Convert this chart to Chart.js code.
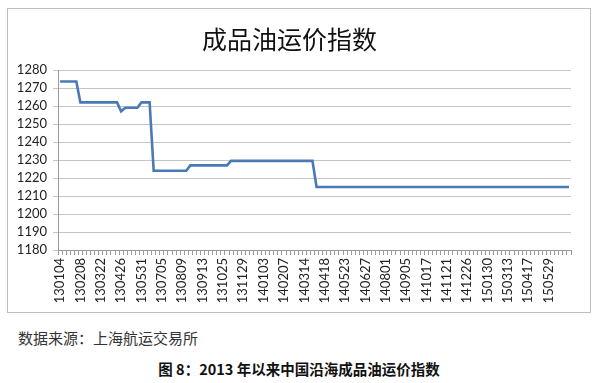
<!DOCTYPE html>
<html>
<head>
<meta charset="utf-8">
<script src="https://cdn.jsdelivr.net/npm/chart.js@4.4.1/dist/chart.umd.min.js"></script>
<style>
  html, body { margin: 0; padding: 0; background: #fff; }
  body { width: 600px; height: 383px; position: relative; overflow: hidden; }
  #frame { position: absolute; left: 7px; top: 8px; width: 582px; height: 303px; border: 1px solid #bdbdbd; }
  #source { position: absolute; left: 18px; top: 327px; font: 15px "Noto Sans CJK SC", sans-serif; color: #333; white-space: nowrap; }
  #caption { position: absolute; left: 0; width: 598px; top: 358px; text-align: center; font: bold 14.5px "Noto Sans CJK SC", sans-serif; color: #111; white-space: nowrap; }
</style>
</head>
<body>
<div id="frame"><canvas id="c" width="582" height="303"></canvas></div>
<div id="source">数据来源：上海航运交易所</div>
<div id="caption">图 8：2013 年以来中国沿海成品油运价指数</div>
<script>
// Tick labels shown on the x axis (every 5th weekly observation)
const tickLabels = ['130104','130208','130322','130426','130531','130705','130809','130913','131025','131129',
  '140103','140207','140314','140418','140523','140627','140801','140905','141017','141121',
  '141226','150130','150313','150417','150529'];
const labelEvery = 5;

// Weekly index values (126 observations)
const indexValues = [
  1273.6,1273.6,1273.6,1273.6,1273.6,
  1262,1262,1262,1262,1262,1262,1262,1262,1262,1262,
  1257,
  1259,1259,1259,1259,
  1262,1262,1262,
  1224,1224,1224,1224,1224,1224,1224,1224,1224,
  1227,1227,1227,1227,1227,1227,1227,1227,1227,1227,
  1229.5,1229.5,1229.5,1229.5,1229.5,1229.5,1229.5,1229.5,1229.5,1229.5,
  1229.5,1229.5,1229.5,1229.5,1229.5,1229.5,1229.5,1229.5,1229.5,1229.5,1229.5,
  1215,1215,1215,1215,1215,1215,1215,1215,1215,1215,
  1215,1215,1215,1215,1215,1215,1215,1215,1215,1215,
  1215,1215,1215,1215,1215,1215,1215,1215,1215,1215,
  1215,1215,1215,1215,1215,1215,1215,1215,1215,1215,
  1215,1215,1215,1215,1215,1215,1215,1215,1215,1215,
  1215,1215,1215,1215,1215,1215,1215,1215,1215,1215,
  1215,1215,1215
];

const yMin = 1180, yMax = 1280, yStep = 10;
const chartTitle = '成品油运价指数';

const categories = indexValues.map((v, i) => (i % labelEvery === 0 ? (tickLabels[i / labelEvery] || '') : ''));

const numFont = { family: 'Lato, "Liberation Sans", sans-serif', size: 13 };

new Chart(document.getElementById('c'), {
  type: 'line',
  data: {
    labels: categories,
    datasets: [{
      data: indexValues,
      borderColor: '#4a7ab5',
      borderWidth: 2.6,
      pointRadius: 0,
      tension: 0,
      fill: false
    }]
  },
  options: {
    responsive: false,
    devicePixelRatio: 1,
    animation: false,
    layout: { padding: { left: 0, right: 19, top: 0, bottom: 4 } },
    plugins: {
      legend: { display: false },
      tooltip: { enabled: false },
      title: {
        display: true,
        text: chartTitle,
        color: '#111',
        font: { family: '"Noto Sans CJK SC", sans-serif', size: 25, weight: 'normal' },
        padding: { top: 15, bottom: 16 }
      }
    },
    scales: {
      x: {
        type: 'category',
        offset: true,
        grid: { display: true, drawOnChartArea: false, drawTicks: true, tickLength: 5, color: '#9a9a9a', offset: true },
        border: { display: true, color: '#9a9a9a', width: 1 },
        ticks: {
          autoSkip: false,
          minRotation: 90,
          maxRotation: 90,
          padding: 3,
          color: '#222',
          font: numFont
        },
        afterFit: (s) => { s.height = 58; }
      },
      y: {
        min: yMin,
        max: yMax,
        grid: { color: '#c4c4c4', lineWidth: 1, tickLength: 5, drawTicks: true },
        border: { display: true, color: '#9a9a9a', width: 1 },
        ticks: { stepSize: yStep, autoSkip: false, padding: 6, color: '#222', font: numFont, callback: (v) => String(v) },
        afterFit: (s) => { s.width = 50; }
      }
    }
  }
});
</script>
</body>
</html>
